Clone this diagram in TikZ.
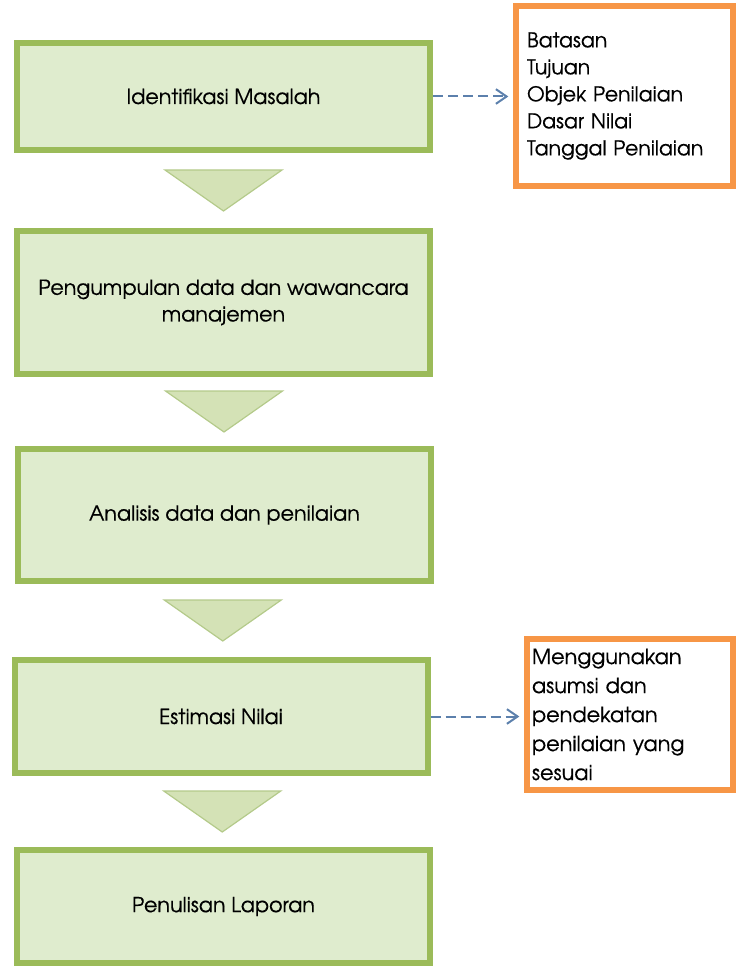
\documentclass[tikz,border=0pt]{standalone}
\usepackage{fontspec}
\setmainfont{TeX Gyre Adventor}[FakeBold=0.4]
\usepackage{tikz}
\usetikzlibrary{arrows.meta}
\usetikzlibrary{calc}
\definecolor{stepgreen}{RGB}{155,187,89}
\definecolor{stepfill}{RGB}{223,236,206}
\definecolor{trifill}{RGB}{212,226,182}
\definecolor{triline}{RGB}{180,202,138}
\definecolor{noteorange}{RGB}{247,150,70}
\definecolor{dashblue}{RGB}{92,128,172}

\tikzset{
  stepbox/.style={draw=stepgreen,fill=stepfill,line width=4.5pt,minimum width=309.75pt,
    align=center,font=\fontsize{15.5}{20}\selectfont},
  notebox/.style={draw=noteorange,fill=white,line width=4.5pt,align=left},
  dasharrow/.style={draw=dashblue,line width=1.5pt,dash pattern=on 7.5pt off 3.75pt,
    -{Straight Barb[length=8pt,width=11pt,line width=1.5pt]},shorten >=3.5pt},
  downtri/.pic={\draw[triline,fill=trifill,line width=0.9pt] (-58.5,-20.5) -- (58.5,-20.5) -- (0,20.5) -- cycle;}
}

\begin{document}
\begin{tikzpicture}[x=0.75pt,y=-0.75pt]
  \useasboundingbox (0,0) rectangle (736,966);
  % main steps
  \node[stepbox,minimum height=80.25pt] (b1) at (223.5,96.5) {Identifikasi Masalah};
  \node[stepbox,minimum height=107.25pt] (b2) at (223.5,302.5) {Pengumpulan data dan wawancara\\manajemen};
  \node[stepbox,minimum height=99pt] (b3) at (224.5,515) {Analisis data dan penilaian};
  \node[stepbox,minimum height=84.75pt] (b4) at (221,716.5) {Estimasi Nilai};
  \node[stepbox,minimum height=84.75pt] (b5) at (223.5,906.5) {Penulisan Laporan};
  % notes
  \node[notebox,minimum width=162.75pt,minimum height=135pt,inner xsep=8.25pt,text width=146.25pt,
    font=\fontsize{15.3}{20.25}\selectfont] (n1) at (624.5,96)
    {Batasan\\Tujuan\\Objek Penilaian\\Dasar Nilai\\Tanggal Penilaian};
  \node[notebox,minimum width=154.5pt,minimum height=113.25pt,inner xsep=3.75pt,text width=147pt,
    font=\fontsize{15.6}{21.75}\selectfont] (n2) at (630,714.5)
    {Menggunakan\\asumsi dan\\pendekatan\\penilaian yang\\sesuai};
  % block arrows
  \path ($(b1.south)!0.5!(b2.north)$) pic {downtri};
  \path ($(b2.south)!0.5!(b3.north)$) pic {downtri};
  \path ($(b3.south)!0.5!(b4.north)$) pic {downtri};
  \path ($(b4.south)!0.5!(b5.north)$) pic {downtri};
  % dashed links
  \draw[dasharrow] (b1.east) -- (b1.east -| n1.west);
  \draw[dasharrow] (b4.east) -- (b4.east -| n2.west);
\end{tikzpicture}
\end{document}
